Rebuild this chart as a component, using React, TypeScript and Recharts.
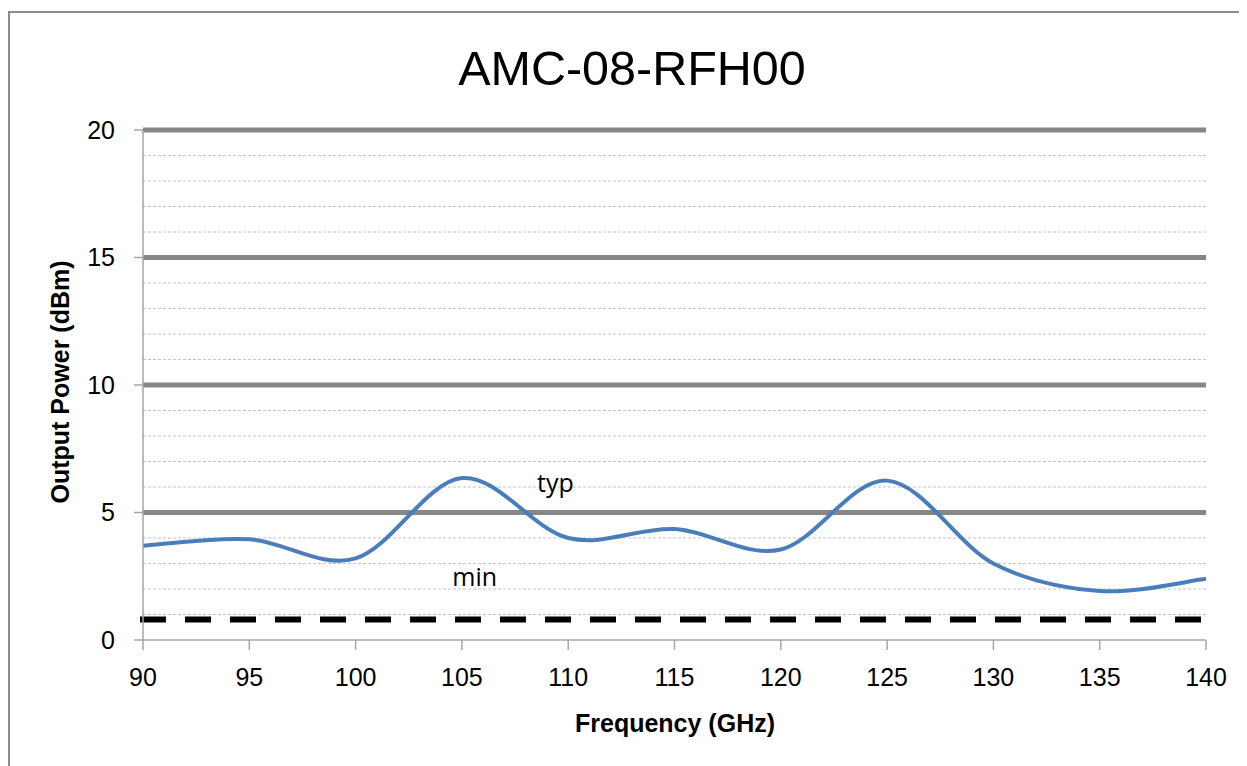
import { Line, LineChart, ReferenceDot, ReferenceLine, XAxis, YAxis } from "recharts";

// frequency points (GHz) and output power (dBm)
const freqs = [90, 95, 100, 105, 110, 115, 120, 125, 130, 135, 140];
const typPower = [3.7, 3.95, 3.2, 6.35, 4.0, 4.35, 3.55, 6.25, 3.0, 1.92, 2.4];
const minPower = [0.8, 0.8, 0.8, 0.8, 0.8, 0.8, 0.8, 0.8, 0.8, 0.8, 0.8];

const xTicks = [90, 95, 100, 105, 110, 115, 120, 125, 130, 135, 140];
const yTicks = [0, 5, 10, 15, 20];
const majorGrid = [5, 10, 15, 20];
const minorGrid = [1, 2, 3, 4, 6, 7, 8, 9, 11, 12, 13, 14, 16, 17, 18, 19];

const data = freqs.map((f, i) => ({ freq: f, typ: typPower[i], min: minPower[i] }));

const axisColor = "#a6a6a6";
const font = "'Liberation Sans', Arial, sans-serif";
const noteFont = "'Open Sans', sans-serif";

// Excel-style smoothed line (Catmull-Rom through the points, as bezier segments)
const excelSmooth = (context: any) => {
  let pts: number[][] = [];
  return {
    areaStart() {},
    areaEnd() {},
    lineStart() {
      pts = [];
    },
    point(x: number, y: number) {
      pts.push([+x, +y]);
    },
    lineEnd() {
      const n = pts.length;
      if (!n) return;
      context.moveTo(pts[0][0], pts[0][1]);
      for (let i = 0; i < n - 1; i++) {
        const p0 = pts[i - 1] || pts[i];
        const p1 = pts[i];
        const p2 = pts[i + 1];
        const p3 = pts[i + 2] || p2;
        context.bezierCurveTo(
          p1[0] + (p2[0] - p0[0]) / 6,
          p1[1] + (p2[1] - p0[1]) / 6,
          p2[0] - (p3[0] - p1[0]) / 6,
          p2[1] - (p3[1] - p1[1]) / 6,
          p2[0],
          p2[1]
        );
      }
    },
  };
};

export default function App() {
  return (
    <div style={{ position: "relative", width: 1239, height: 758, overflow: "hidden" }}>
      {/* chart frame */}
      <div
        style={{
          position: "absolute",
          left: 0,
          top: 3,
          width: 1260,
          height: 780,
          borderLeft: "2px solid #8c8c8c",
          borderTop: "2px solid #8c8c8c",
        }}
      />
      <div
        style={{
          position: "absolute",
          left: 324,
          top: 36,
          width: 600,
          textAlign: "center",
          fontFamily: font,
          fontSize: 48.5,
          lineHeight: 1,
          color: "#000",
        }}
      >
        AMC-08-RFH00
      </div>
      <div
        style={{
          position: "absolute",
          left: 52 - 150,
          top: 374 - 14,
          width: 300,
          textAlign: "center",
          fontFamily: font,
          fontWeight: "bold",
          fontSize: 25,
          lineHeight: "28px",
          transform: "rotate(-90deg)",
        }}
      >
        Output Power (dBm)
      </div>
      <div
        style={{
          position: "absolute",
          left: 667 - 150,
          top: 715 - 14,
          width: 300,
          textAlign: "center",
          fontFamily: font,
          fontWeight: "bold",
          fontSize: 25,
          lineHeight: "28px",
        }}
      >
        Frequency (GHz)
      </div>
      <LineChart
        width={1239}
        height={758}
        data={data}
        margin={{ top: 122, right: 41, bottom: 66, left: 75 }}
        style={{ position: "absolute", left: 0, top: 0 }}
      >
        <XAxis
          dataKey="freq"
          type="number"
          domain={[90, 140]}
          ticks={xTicks}
          height={60}
          tickSize={10}
          tickMargin={18}
          stroke={axisColor}
          strokeWidth={1.5}
          tick={{ fill: "#000", fontSize: 25, fontFamily: font }}
        />
        <YAxis
          type="number"
          domain={[0, 20]}
          ticks={yTicks}
          width={60}
          tickSize={9}
          tickMargin={19}
          stroke={axisColor}
          strokeWidth={1.5}
          tick={{ fill: "#000", fontSize: 25, fontFamily: font }}
        />
        {minorGrid.map((v) => (
          <ReferenceLine key={"m" + v} y={v} stroke="#c4c4c4" strokeWidth={1} strokeDasharray="3 2" />
        ))}
        {majorGrid.map((v) => (
          <ReferenceLine key={"M" + v} y={v} stroke="#878787" strokeWidth={5} />
        ))}
        <Line
          dataKey="min"
          type="linear"
          stroke="#000"
          strokeWidth={6}
          strokeDasharray="20 25"
          strokeLinecap="square"
          dot={false}
          isAnimationActive={false}
        />
        <Line
          dataKey="typ"
          type={excelSmooth as any}
          stroke="#4a7ebb"
          strokeWidth={4}
          dot={false}
          isAnimationActive={false}
        />
        <ReferenceDot
          x={109.4}
          y={6.15}
          r={0}
          label={{ value: "typ", fill: "#000", fontSize: 25, fontFamily: noteFont }}
        />
        <ReferenceDot
          x={105.6}
          y={2.47}
          r={0}
          label={{ value: "min", fill: "#000", fontSize: 25, fontFamily: noteFont }}
        />
      </LineChart>
    </div>
  );
}
